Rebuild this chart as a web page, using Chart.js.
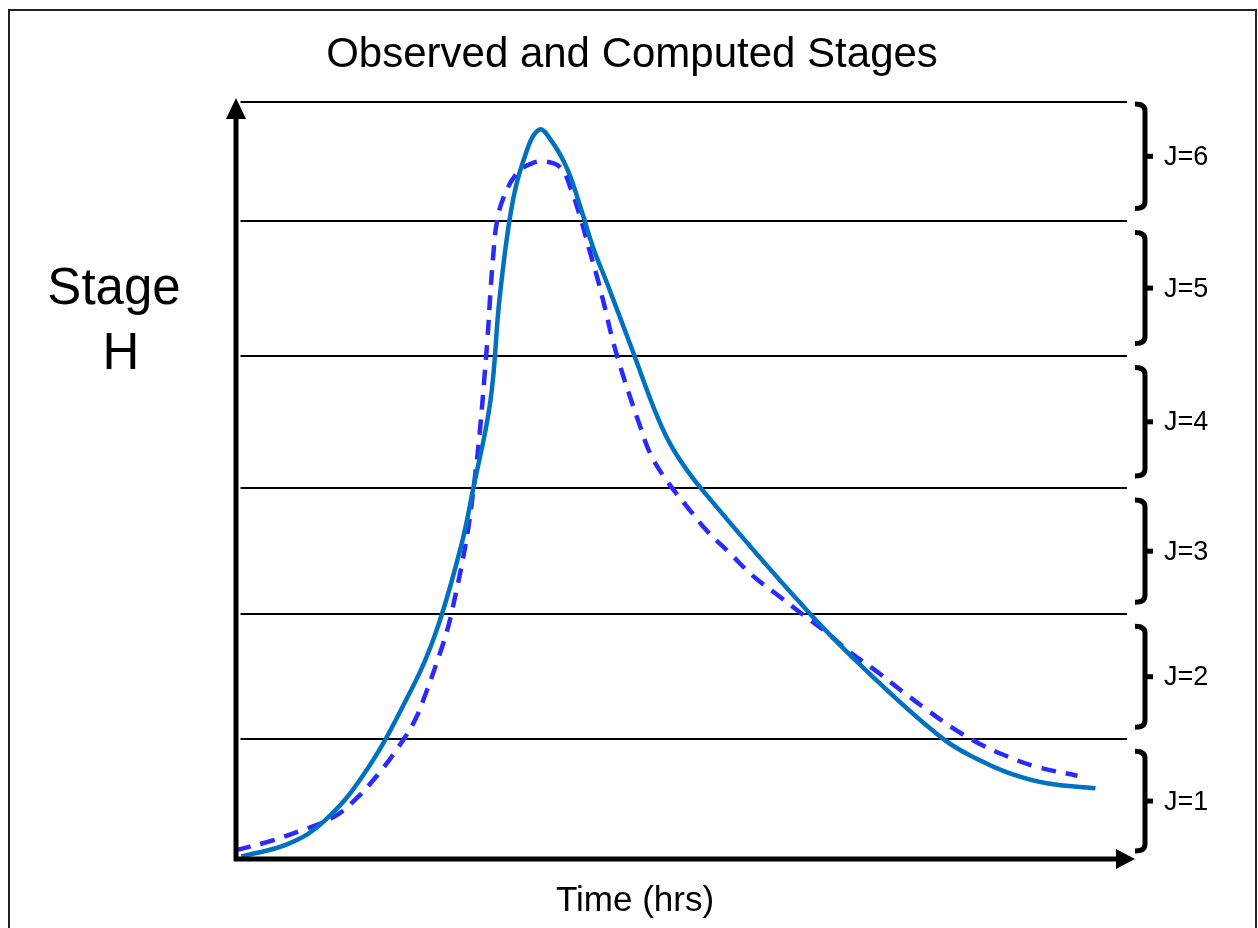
<!DOCTYPE html>
<html>
<head>
<meta charset="utf-8">
<script src="https://cdn.jsdelivr.net/npm/chart.js@4/dist/chart.umd.min.js"></script>
<style>
  body { margin: 0; background: #fff; }
  canvas { display: block; }
</style>
</head>
<body>
<canvas id="stageChart" width="1258" height="928"></canvas>
<script>
// observed stage (solid line)
const timeObs = [0.6, 5.8, 9.8, 14.2, 18.7, 22.0, 25.0, 26.4, 28.3, 29.3, 30.6, 31.9, 33.7, 35.3, 36.9, 38.3, 39.8, 41.3, 44.1, 46.9, 48.7, 51.7, 63.9, 70.9, 78.7, 82.8, 86.4, 90.2, 95.6];
const stageObs = [0.02, 0.12, 0.30, 0.67, 1.23, 1.75, 2.47, 2.94, 3.63, 4.43, 5.14, 5.52, 5.78, 5.67, 5.46, 5.17, 4.83, 4.56, 4.03, 3.50, 3.24, 2.94, 1.94, 1.44, 0.95, 0.78, 0.67, 0.60, 0.56];

// computed stage (dashed line)
const timeComp = [0.0, 4.2, 7.4, 10.8, 13.4, 15.9, 18.0, 19.9, 21.2, 22.3, 23.4, 24.1, 25.6, 26.6, 27.2, 27.6, 28.0, 28.3, 28.6, 29.0, 29.8, 31.3, 32.8, 34.2, 36.1, 37.3, 38.4, 39.3, 40.1, 41.0, 41.8, 42.8, 43.8, 44.9, 46.1, 47.9, 50.2, 52.4, 55.0, 57.4, 60.1, 63.0, 65.8, 68.1, 71.4, 74.1, 76.9, 79.7, 82.8, 85.9, 89.1, 93.6];
const stageComp = [0.07, 0.15, 0.23, 0.33, 0.48, 0.68, 0.88, 1.10, 1.33, 1.55, 1.79, 1.99, 2.52, 3.04, 3.45, 3.79, 4.15, 4.49, 4.77, 5.04, 5.25, 5.44, 5.51, 5.53, 5.48, 5.30, 5.06, 4.83, 4.63, 4.38, 4.14, 3.89, 3.67, 3.44, 3.21, 3.00, 2.79, 2.60, 2.42, 2.25, 2.10, 1.94, 1.79, 1.65, 1.48, 1.33, 1.18, 1.04, 0.91, 0.81, 0.73, 0.66];

// stage bands
const bandLimits = [0, 0.95, 1.94, 2.94, 3.99, 5.06, 6.0];
const bandLabels = ['J=1', 'J=2', 'J=3', 'J=4', 'J=5', 'J=6'];

const toPoints = (xs, ys) => xs.map((x, i) => ({ x: x, y: ys[i] }));
const FONT = '"Liberation Sans", Arial, sans-serif';

const sketch = {
  id: 'sketch',
  beforeDatasetsDraw(chart) {
    const { ctx, scales: { x, y } } = chart;
    ctx.save();
    // band lines
    ctx.strokeStyle = '#000';
    ctx.lineWidth = 2;
    bandLimits.slice(1).forEach(v => {
      const py = Math.round(y.getPixelForValue(v));
      ctx.beginPath();
      ctx.moveTo(x.getPixelForValue(0.5), py);
      ctx.lineTo(x.getPixelForValue(99.1), py);
      ctx.stroke();
    });
    ctx.restore();
  },
  afterDraw(chart) {
    const { ctx, chartArea: a, scales: { x, y } } = chart;
    ctx.save();
    // frame
    ctx.strokeStyle = '#222';
    ctx.lineWidth = 2;
    ctx.strokeRect(9, 10, 1247, 930);

    // axes with arrows
    ctx.strokeStyle = '#000';
    ctx.fillStyle = '#000';
    ctx.lineWidth = 5;
    ctx.beginPath();
    ctx.moveTo(a.left, a.bottom + 2);
    ctx.lineTo(a.left, a.top + 12);
    ctx.moveTo(a.left - 2, a.bottom);
    ctx.lineTo(a.right - 12, a.bottom);
    ctx.stroke();
    ctx.beginPath();
    ctx.moveTo(a.left, a.top - 4);
    ctx.lineTo(a.left - 10, a.top + 17);
    ctx.lineTo(a.left + 10, a.top + 17);
    ctx.closePath();
    ctx.fill();
    ctx.beginPath();
    ctx.moveTo(a.right, a.bottom);
    ctx.lineTo(a.right - 19, a.bottom - 10);
    ctx.lineTo(a.right - 19, a.bottom + 10);
    ctx.closePath();
    ctx.fill();

    // braces + labels
    ctx.lineWidth = 5;
    ctx.lineJoin = 'round';
    ctx.font = '27px ' + FONT;
    ctx.textBaseline = 'middle';
    ctx.textAlign = 'left';
    const bx = a.right + 7;
    for (let i = 0; i < bandLabels.length; i++) {
      const y0 = y.getPixelForValue(bandLimits[i + 1]) + (i === 5 ? 2 : 12);
      const y1 = y.getPixelForValue(bandLimits[i]) - (i === 0 ? 8 : 12);
      const ym = (y0 + y1) / 2;
      ctx.beginPath();
      ctx.moveTo(bx - 7, y0);
      ctx.quadraticCurveTo(bx + 3, y0, bx + 3, y0 + 7);
      ctx.lineTo(bx + 3, y1 - 7);
      ctx.quadraticCurveTo(bx + 3, y1, bx - 7, y1);
      ctx.stroke();
      ctx.beginPath();
      ctx.moveTo(bx + 3, ym);
      ctx.lineTo(bx + 11, ym);
      ctx.stroke();
      ctx.fillText(bandLabels[i], 1164, ym + 1);
    }

    // texts
    ctx.textAlign = 'center';
    ctx.textBaseline = 'alphabetic';
    ctx.font = '42px ' + FONT;
    ctx.fillText('Observed and Computed Stages', 632, 67);
    ctx.font = '51px ' + FONT;
    ctx.fillText('Stage', 114, 304);
    ctx.fillText('H', 121, 369);
    ctx.font = '35px ' + FONT;
    ctx.fillText('Time (hrs)', 635, 911);
    ctx.restore();
  }
};

new Chart(document.getElementById('stageChart'), {
  type: 'line',
  data: {
    datasets: [
      {
        label: 'Observed',
        data: toPoints(timeObs, stageObs),
        borderColor: '#0070C0',
        borderWidth: 4.5,
        pointRadius: 0,
        tension: 0.4,
        fill: false
      },
      {
        label: 'Computed',
        data: toPoints(timeComp, stageComp),
        borderColor: '#2a2aff',
        borderWidth: 4.5,
        borderDash: [15, 10],
        pointRadius: 0,
        tension: 0.4,
        fill: false
      }
    ]
  },
  options: {
    responsive: false,
    animation: false,
    layout: { padding: { left: 236, right: 123, top: 102, bottom: 69 } },
    plugins: {
      legend: { display: false },
      tooltip: { enabled: false },
      title: { display: false }
    },
    scales: {
      x: { type: 'linear', min: 0, max: 100, display: false },
      y: { type: 'linear', min: 0, max: 6, display: false }
    },
    elements: { line: { borderCapStyle: 'butt' } }
  },
  plugins: [sketch]
});
</script>
</body>
</html>
